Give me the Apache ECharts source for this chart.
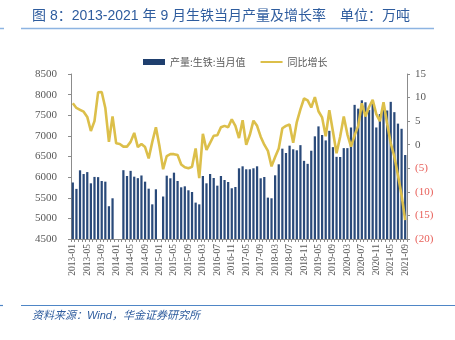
<!DOCTYPE html>
<html><head><meta charset="utf-8">
<script src="https://cdn.jsdelivr.net/npm/echarts@6/dist/echarts.min.js"></script>
<style>html,body{margin:0;padding:0;background:#fff}#c{width:455px;height:340px}</style>
</head><body><div id="c"></div>
<script>
var categories = [
'2013-01','2013-02','2013-03','2013-04','2013-05','2013-06','2013-07','2013-08','2013-09','2013-10','2013-11','2013-12',
'2014-01','2014-02','2014-03','2014-04','2014-05','2014-06','2014-07','2014-08','2014-09','2014-10','2014-11','2014-12',
'2015-01','2015-02','2015-03','2015-04','2015-05','2015-06','2015-07','2015-08','2015-09','2015-10','2015-11','2015-12',
'2016-03','2016-04','2016-05','2016-06','2016-07','2016-08','2016-09','2016-10','2016-11','2016-12',
'2017-03','2017-04','2017-05','2017-06','2017-07','2017-08','2017-09','2017-10','2017-11','2017-12',
'2018-03','2018-04','2018-05','2018-06','2018-07','2018-08','2018-09','2018-10','2018-11','2018-12',
'2019-03','2019-04','2019-05','2019-06','2019-07','2019-08','2019-09','2019-10','2019-11','2019-12',
'2020-03','2020-04','2020-05','2020-06','2020-07','2020-08','2020-09','2020-10','2020-11','2020-12',
'2021-03','2021-04','2021-05','2021-06','2021-07','2021-08','2021-09'];
var output = [
5870,5715,6165,6075,6122,5850,6005,6000,5906,5890,5295,5487,
null,null,6168,6027,6152,6011,5975,6040,5890,5720,5340,5705,
null,5530,6035,5972,6108,5906,5753,5777,5681,5640,5382,5340,
6027,5850,6076,5979,5793,6027,5930,5882,5730,5761,
6214,6262,6190,6190,6214,6262,5972,6003,5503,5487,
6044,6311,6690,6585,6763,6675,6650,6775,6395,6322,
6640,6989,7230,7021,6890,7122,6727,6492,6488,6703,
6703,7203,7752,7660,7862,7814,7627,7860,7204,7530,
7650,7615,7825,7575,7297,7172,6536];
var yoy = [
8.8,7.8,7.4,7.0,5.9,2.9,5.0,11.1,11.2,7.8,0.6,6.0,
0.3,0.15,-0.4,-0.4,0.6,2.5,-0.5,0.15,-0.5,-2.9,0.6,3.7,
-0.4,-5.2,-2.4,-2.0,-2.0,-2.2,-4.2,-4.8,-5.0,-4.7,-0.8,-7.1,
2.3,-1.1,0.4,1.9,2.0,3.7,4.0,3.7,5.4,4.0,
1.4,5.2,0.0,2.1,5.1,4.0,1.7,0.0,-1.3,-4.6,
-2.6,-0.8,3.5,4.0,4.3,0.4,4.8,7.5,9.8,9.4,
7.9,10.1,7.1,5.8,1.8,7.3,2.8,-1.8,1.7,6.0,
2.2,-0.4,2.0,4.0,8.8,6.0,8.0,9.5,6.5,5.0,
9.0,4.5,0.3,-2.5,-6.5,-10.7,-16.0];
var seriesNames = ['产量:生铁:当月值','同比增长'];
var titleText = '图 8：2013-2021 年 9 月生铁当月产量及增长率　单位：万吨';
var sourceText = '资料来源：Wind，华金证券研究所';

var chart = echarts.init(document.getElementById('c'), null, {renderer:'canvas'});
var serif = '"Liberation Serif","Times New Roman",serif';
var axisGray = '#8c8c8c';
var labelGray = '#595959';
chart.setOption({
  animation:false,
  backgroundColor:'#fff',
  grid:{left:71,right:48,top:74,bottom:101},
  legend:{
    top:52,left:138,itemGap:14,
    textStyle:{fontSize:10,color:labelGray,fontFamily:'"Noto Sans CJK SC",sans-serif'},
    data:[{name:seriesNames[0],icon:'rect',itemStyle:{color:'#1f3f6e'}},
          {name:seriesNames[1],itemStyle:{opacity:0}}],
    itemWidth:22,itemHeight:6
  },
  xAxis:{
    type:'category',data:categories,boundaryGap:true,
    axisLine:{onZero:false,lineStyle:{color:axisGray,width:1}},
    axisTick:{show:true,interval:0,length:3,lineStyle:{color:axisGray}},
    axisLabel:{interval:3,rotate:90,margin:5,fontSize:9.5,color:labelGray,fontFamily:serif}
  },
  yAxis:[{
    type:'value',min:4500,max:8500,interval:500,position:'left',
    splitLine:{show:false},
    axisLine:{show:true,lineStyle:{color:axisGray}},
    axisTick:{show:true,length:3,lineStyle:{color:axisGray}},
    axisLabel:{fontSize:11,color:labelGray,fontFamily:serif,margin:14,formatter:function(v){return String(v);}}
  },{
    type:'value',min:-20,max:15,interval:5,position:'right',
    splitLine:{show:false},
    axisLine:{show:true,lineStyle:{color:axisGray}},
    axisTick:{show:true,length:3,lineStyle:{color:axisGray}},
    axisLabel:{fontSize:11,fontFamily:serif,margin:8,
      formatter:function(v){return v<0?'{r|('+(-v)+')}':'{g|'+v+'}';},
      rich:{r:{color:'#e8605a',fontSize:11,fontFamily:serif},g:{color:labelGray,fontSize:11,fontFamily:serif}}}
  }],
  series:[{
    name:seriesNames[0],type:'bar',data:output,yAxisIndex:0,barWidth:'62%',
    itemStyle:{color:'#2a4a7a'}
  },{
    name:seriesNames[1],type:'line',data:yoy,yAxisIndex:1,symbol:'none',smooth:false,
    lineStyle:{color:'#dcbf4a',width:2.6},itemStyle:{color:'#dcbf4a'}
  }],
  graphic:[
    {type:'text',left:32,top:9,style:{text:titleText,fill:'#2e5c9e',font:'14px "Liberation Sans","Noto Sans CJK SC",sans-serif'}},
    {type:'line',shape:{x1:21,y1:28.5,x2:434,y2:28.5},style:{stroke:'#8db4e2',lineWidth:1.5}},
    {type:'line',shape:{x1:0,y1:28.5,x2:4,y2:28.5},style:{stroke:'#8db4e2',lineWidth:1.5}},
    {type:'line',shape:{x1:21,y1:305.5,x2:455,y2:305.5},style:{stroke:'#4f86c6',lineWidth:1.2}},
    {type:'line',shape:{x1:0,y1:305.5,x2:3,y2:305.5},style:{stroke:'#4f86c6',lineWidth:1.2}},
    {type:'text',left:32,top:310,style:{text:sourceText,fill:'#2e5c9e',font:'italic 11px "Liberation Sans","Noto Sans CJK SC",sans-serif'}}
  ]
});
</script></body></html>
